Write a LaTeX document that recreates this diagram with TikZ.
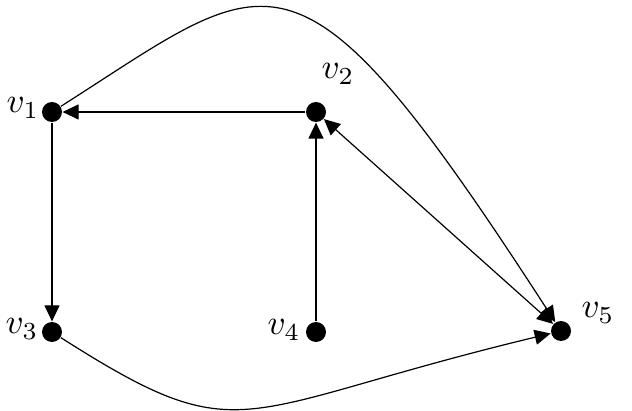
\documentclass[tikz,border=0pt]{standalone}
\usetikzlibrary{arrows.meta}
\newcommand{\vname}[1]{\scalebox{3.5}{$v_{#1}$}}
\begin{document}
\begin{tikzpicture}[
		x=1pt, y=-1pt,
		dot/.style={circle, fill=black, draw=none, minimum size=20pt, inner sep=0pt},
		lbl/.style={inner sep=0pt},
		every path/.style={line width=1.2pt, >={Triangle[length=16pt, width=15pt]}},
		]
		\useasboundingbox (0,0) rectangle (632,411);
		\node[dot] (v1) at ( 52,112) {};
		\node[dot] (v2) at (316,112) {};
		\node[dot] (v3) at ( 52,332) {};
		\node[dot] (v4) at (316,332) {};
		\node[dot] (v5) at (561,331) {};
		\node[lbl] (l1) at ( 23,108) {\vname{1}};
		\node[lbl] (l2) at (338, 74) {\vname{2}};
		\node[lbl] (l3) at ( 22,329) {\vname{3}};
		\node[lbl] (l4) at (284,330) {\vname{4}};
		\node[lbl] (l5) at (598,313) {\vname{5}};
		\path[->] (v2) edge (v1);
		\path[->] (v1) edge (v3);
		\path[->] (v4) edge (v2);
		\path[<->] (v2) edge (v5);
		\draw[->] (v1) .. controls (275,-30) and (295,-80) .. (v5);
		\draw[->] (v3) .. controls (245,455) and (232,410) .. (v5);
	\end{tikzpicture}
\end{document}
